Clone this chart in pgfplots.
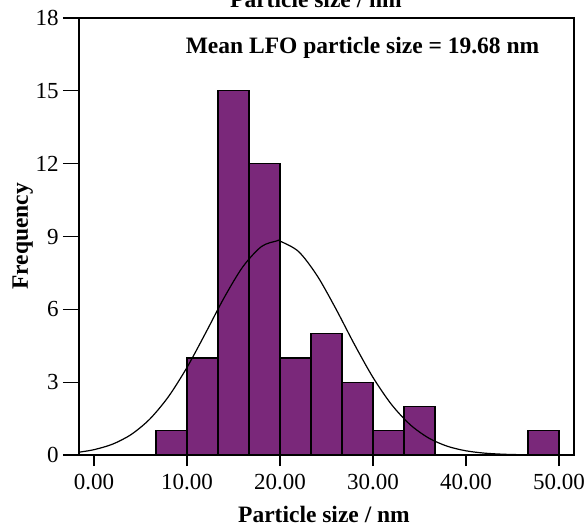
\documentclass[border=0pt]{standalone}
\usepackage{fontspec}
\setmainfont{Liberation Serif}
\usepackage{pgfplots}
\pgfplotsset{compat=1.18}
\definecolor{barpurple}{RGB}{122,40,122}
\begin{document}
\begin{tikzpicture}
\begin{axis}[
  scale only axis,
  width=495pt, height=437pt,
  xmin=-1.613, xmax=51.61,
  ymin=0, ymax=18,
  axis line style={line width=1.3pt},
  tick pos=left,
  tick align=outside,
  xtick={0,10,20,30,40,50},
  xticklabels={0.00,10.00,20.00,30.00,40.00,50.00},
  ytick={0,3,6,9,12,15,18},
  yticklabels={0,3,6,9,12,15,18},
  xtick style={line width=1.3pt, black, /pgfplots/major tick length=11pt},
  ytick style={line width=1.3pt, black, /pgfplots/major tick length=16pt},
  ticklabel style={font=\fontsize{23}{27}\selectfont},
  xticklabel style={yshift=-11pt},
  yticklabel style={inner xsep=0pt, xshift=-16pt},
  /pgf/number format/assume math mode=true,
  clip=true,
]
\addplot[ybar interval, fill=barpurple, draw=black, line width=1.3pt] coordinates {
  (6.667,1) (10,4) (13.333,15) (16.667,12) (20,4) (23.333,5) (26.667,3) (30,1) (33.333,2) (36.667,2)
};
\addplot[ybar interval, fill=barpurple, draw=black, line width=1.3pt] coordinates {
  (46.667,1) (50,1)
};
\addplot[smooth, black, line width=1.2pt] coordinates {
  (-1.6,0.117) (0,0.219) (2,0.447) (4,0.845) (6,1.480) (8,2.401) (10,3.608)
  (12,5.025) (14,6.485) (16,7.751) (18,8.585) (19.68,8.82) (20,8.811)
  (22,8.379) (24,7.381) (26,6.026) (28,4.557) (30,3.194) (32,2.074)
  (34,1.247) (36,0.695) (38,0.359) (40,0.172) (42,0.0762) (44,0.0313)
  (46,0.0119) (48,0.0042) (50,0.0014) (51.6,0.0005)
};
\node[anchor=base, font=\fontsize{23.5}{27}\selectfont\bfseries] at (axis cs:28.87,16.52) {Mean LFO particle size = 19.68 nm};
\coordinate (ll) at (rel axis cs:0,0);
\coordinate (ur) at (rel axis cs:1,1);
\end{axis}
\node[anchor=base, font=\fontsize{23.5}{27}\selectfont\bfseries] at ([shift={(245pt,-68pt)}]ll) {Particle size / nm};
\node[anchor=base, font=\fontsize{23.5}{27}\selectfont\bfseries] at ([shift={(-258pt,10pt)}]ur) {Particle size / nm};
\node[anchor=base, rotate=90, font=\fontsize{23.5}{27}\selectfont\bfseries] at ([shift={(-51pt,218.5pt)}]ll) {Frequency};
\pgfresetboundingbox
\path[use as bounding box] ([shift={(-79pt,-73pt)}]ll) rectangle ([shift={(14pt,18pt)}]ur);
\end{tikzpicture}
\end{document}
